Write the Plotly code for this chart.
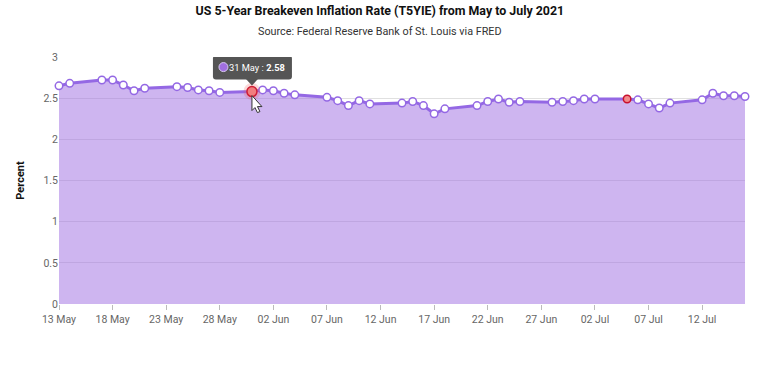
import plotly.graph_objects as go

dates = ["2021-05-13","2021-05-14","2021-05-17","2021-05-18","2021-05-19","2021-05-20","2021-05-21",
         "2021-05-24","2021-05-25","2021-05-26","2021-05-27","2021-05-28","2021-05-31",
         "2021-06-01","2021-06-02","2021-06-03","2021-06-04","2021-06-07","2021-06-08","2021-06-09","2021-06-10","2021-06-11",
         "2021-06-14","2021-06-15","2021-06-16","2021-06-17","2021-06-18","2021-06-21","2021-06-22","2021-06-23","2021-06-24","2021-06-25",
         "2021-06-28","2021-06-29","2021-06-30","2021-07-01","2021-07-02","2021-07-05","2021-07-06","2021-07-07","2021-07-08","2021-07-09",
         "2021-07-12","2021-07-13","2021-07-14","2021-07-15","2021-07-16"]
values = [2.65,2.68,2.72,2.72,2.66,2.59,2.62,
          2.64,2.63,2.60,2.59,2.57,2.58,
          2.60,2.59,2.56,2.54,2.51,2.47,2.41,2.47,2.43,
          2.44,2.46,2.41,2.31,2.37,2.41,2.46,2.49,2.45,2.46,
          2.45,2.46,2.47,2.49,2.49,2.49,2.48,2.43,2.38,2.44,
          2.48,2.56,2.53,2.53,2.52]
y_ticks = [0, 0.5, 1, 1.5, 2, 2.5, 3]
hover_date = "2021-05-31"
hover_value = 2.58
second_red = "2021-07-05"

PURPLE = "#9468e4"
FONT = "Roboto, Arial, sans-serif"
red_dates = {hover_date, second_red}

fig = go.Figure()
fig.add_trace(go.Scatter(
    x=dates, y=values, mode="lines+markers", fill="tozeroy",
    fillcolor="rgba(157,108,226,0.5)",
    line=dict(color=PURPLE, width=3),
    marker=dict(
        opacity=1,
        size=[10 if d == hover_date else 7.5 for d in dates],
        color=["#f28b8b" if d in red_dates else "#ffffff" for d in dates],
        line=dict(color=["#c8102e" if d in red_dates else PURPLE for d in dates], width=1.5),
    ),
    hoverinfo="skip", showlegend=False, cliponaxis=False,
))
fig.add_trace(go.Scatter(
    x=[hover_date], y=[hover_value], mode="markers",
    marker=dict(size=17, color="rgba(235,80,80,0.22)"),
    hoverinfo="skip", showlegend=False, cliponaxis=False,
))


def anchored(path, **kw):
    fig.add_shape(type="path", layer="above", xref="x", yref="y",
                  xsizemode="pixel", ysizemode="pixel",
                  xanchor=hover_date, yanchor=hover_value, path=path, **kw)


# tooltip box and pointer, anchored to the hovered point
anchored("M -36 12 L 37 12 Q 40 12 40 15 L 40 33 Q 40 36 37 36 L -36 36 Q -39 36 -39 33 "
         "L -39 15 Q -39 12 -36 12 Z", fillcolor="#555555", line=dict(width=0))
anchored("M -6 12.5 L 6 12.5 L 0 6 Z", fillcolor="#555555", line=dict(width=0))
# tooltip swatch
fig.add_shape(type="circle", layer="above", xref="x", yref="y",
              xsizemode="pixel", ysizemode="pixel", xanchor=hover_date, yanchor=hover_value,
              x0=-33, x1=-24, y0=20, y1=29, fillcolor="#a06fe0",
              line=dict(color="#d8c8f2", width=1))
# mouse cursor
anchored("M 0 -4 L 0 -19 L 3 -16 L 5.5 -21 L 8 -20 L 5.5 -15 L 10 -15 Z",
         fillcolor="#ffffff", line=dict(color="#333333", width=1))

fig.add_annotation(
    x=hover_date, y=hover_value, xref="x", yref="y", showarrow=False,
    yshift=24.5, xshift=5.5,
    text=f"31 May : <b>{hover_value}</b>",
    font=dict(family=FONT, size=9.3, color="#ffffff"),
)

fig.update_layout(
    width=780, height=370,
    margin=dict(l=59, r=35, t=57, b=66, autoexpand=False),
    paper_bgcolor="#ffffff", plot_bgcolor="#ffffff",
    font=dict(family=FONT, color="#666666", size=10.5),
    title=dict(
        text="<b>US 5-Year Breakeven Inflation Rate (T5YIE) from May to July 2021</b>",
        x=0.487, xanchor="center", y=0.97, yanchor="middle",
        font=dict(family=FONT, size=12.4, color="#111111"),
    ),
    xaxis=dict(
        type="date", range=["2021-05-13", "2021-07-16"],
        tick0="2021-05-13", dtick=5 * 86400000, tickformat="%d %b",
        showgrid=False, zeroline=False, showline=False,
        ticks="outside", ticklen=5, tickcolor="#bbbbbb", tickwidth=1,
        tickfont=dict(size=10.5, color="#666666"),
    ),
    yaxis=dict(
        range=[0, 3], tickvals=y_ticks, ticktext=[str(v) for v in y_ticks],
        showgrid=True, gridcolor="#e0e0e0", gridwidth=1, zeroline=False, showline=False,
        ticks="", tickfont=dict(size=10.5, color="#666666"),
        title=dict(text="<b>Percent</b>", standoff=16, font=dict(size=11, color="#111111")),
    ),
)
fig.add_annotation(
    text="Source: Federal Reserve Bank of St. Louis via FRED",
    xref="paper", yref="paper", x=0.468, y=1, yshift=26, yanchor="middle", showarrow=False,
    font=dict(family=FONT, size=10.8, color="#333333"),
)
fig.write_html("out.html", config={"displayModeBar": False},
               post_script="document.body.style.margin='0';")
